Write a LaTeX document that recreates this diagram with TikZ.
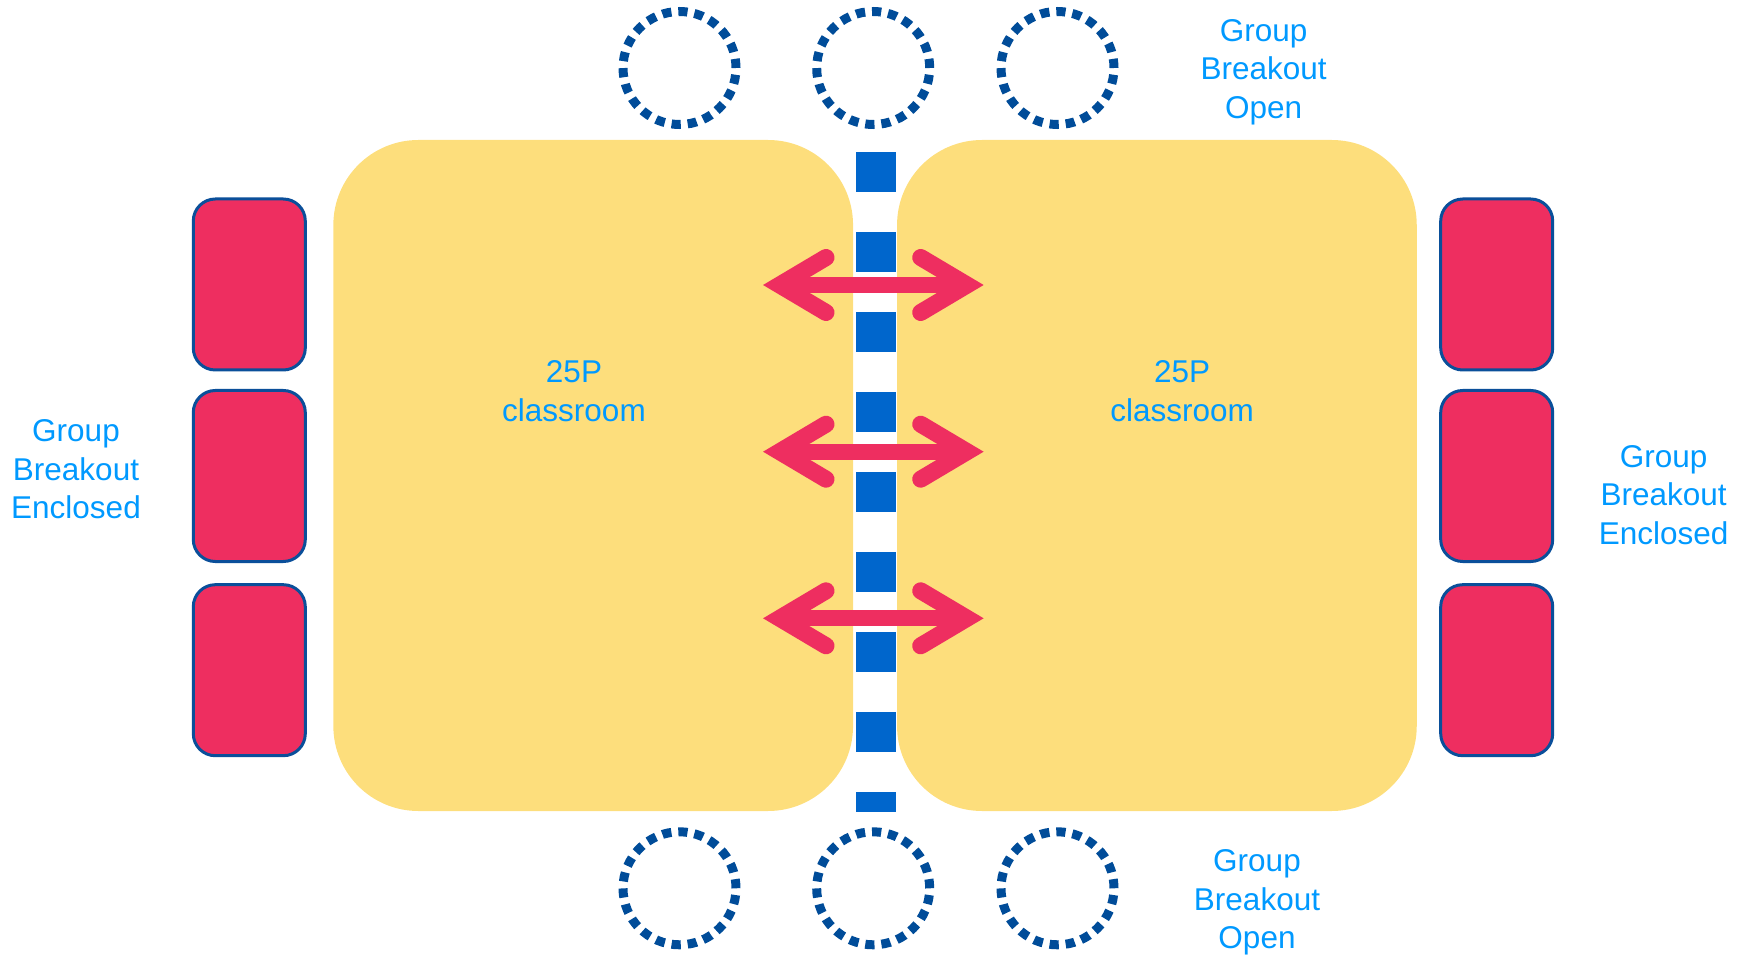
\documentclass[tikz,border=0pt]{standalone}
\usepackage{fontspec}
\setmainfont{Liberation Sans}
\definecolor{roomyellow}{HTML}{FDDE7C}
\definecolor{pinkred}{HTML}{EE2E60}
\definecolor{boxborder}{HTML}{0A4F9A}
\definecolor{dashblue}{HTML}{0066CC}
\definecolor{dotblue}{HTML}{004C99}
\definecolor{txtblue}{HTML}{0099FF}
\begin{document}
\begin{tikzpicture}[x=0.5pt,y=-0.5pt,
  room/.style={fill=roomyellow, draw=none, rounded corners=42.5pt, minimum width=259.85pt, minimum height=335.5pt, inner sep=0pt},
  enclosed/.style={fill=pinkred, draw=boxborder, line width=1.5pt, rounded corners=11pt, minimum width=56pt, minimum height=85.5pt, inner sep=0pt},
  openring/.style={circle, draw=dotblue, line width=4.5pt, dash pattern=on 4.6pt off 3.47pt, minimum size=56.5pt, inner sep=0pt},
  lbl/.style={text=txtblue, font=\fontsize{15.75}{19.2}\selectfont, align=center, inner sep=0pt},
  barb/.style={draw=pinkred, line width=8.5pt, line cap=round, line join=miter},
  shaft/.style={draw=pinkred, line width=8pt},
  divider/.style={draw=dashblue, line width=20pt, dash pattern=on 20pt off 20pt}]
\useasboundingbox (0,0) rectangle (1752,957);
% rooms
\node[room] (roomL) at (593.2,475.5) {};
\node[room] (roomR) at (1156.9,475.5) {};
% divider
\coordinate (divtop) at (875.7,152.3);
\coordinate (divbot) at (875.7,811.7);
\draw[divider] (divtop) -- (divbot);
% arrows
\foreach \y/\n in {285/a,451.7/b,618.3/c} {
  \coordinate (\n L) at (779.7,\y);
  \coordinate (\n R) at (967.0,\y);
  \draw[shaft] (\n L) -- (\n R);
  \draw[barb] (826,\y-27.5) -- (\n L) -- (826,\y+27.5);
  \draw[barb] (920.7,\y-27.5) -- (\n R) -- (920.7,\y+27.5);
}
% enclosed breakout rooms
\node[enclosed] (eL1) at (249.3,284.5) {};
\node[enclosed] (eL2) at (249.3,476) {};
\node[enclosed] (eL3) at (249.3,670.2) {};
\node[enclosed] (eR1) at (1496.7,284.5) {};
\node[enclosed] (eR2) at (1496.7,476) {};
\node[enclosed] (eR3) at (1496.7,670.2) {};
% open breakout rings
\node[openring] (oT1) at (679.5,68) {};
\node[openring] (oT2) at (873.2,68) {};
\node[openring] (oT3) at (1057.5,68) {};
\node[openring] (oB1) at (679.5,888.3) {};
\node[openring] (oB2) at (873.2,888.3) {};
\node[openring] (oB3) at (1057.5,888.3) {};
% labels
\node[lbl] (cL) at (574,391.3) {25P\\classroom};
\node[lbl] (cR) at (1182.1,391.3) {25P\\classroom};
\node[lbl] (tOpen) at (1263.7,72) {Group\\Breakout\\Open};
\node[lbl] (bOpen) at (1257,902.5) {Group\\Breakout\\Open};
\node[lbl] (lEncl) at (76,469.3) {Group\\Breakout\\Enclosed};
\node[lbl] (rEncl) at (1663.7,495) {Group\\Breakout\\Enclosed};
\end{tikzpicture}
\end{document}
